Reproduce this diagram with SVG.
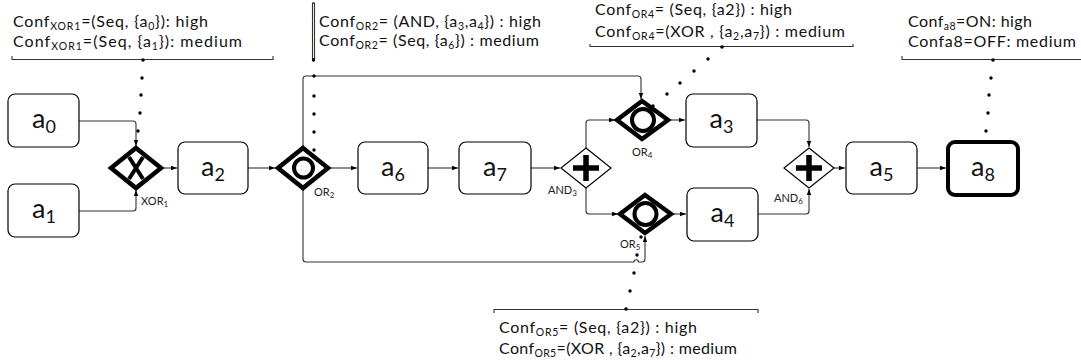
<svg xmlns="http://www.w3.org/2000/svg" width="1081" height="362" viewBox="0 0 1081 362">
<style>
.box{fill:#fff;stroke:#000;stroke-width:1.2}
.bold{fill:#fff;stroke:#000;stroke-width:4}
.gw{fill:#fff;stroke:#000;stroke-width:4.5;stroke-linejoin:miter}
.gwt{fill:#fff;stroke:#000;stroke-width:1.2}
.mk{fill:none;stroke:#000;stroke-width:4}
.plus{stroke:#000;stroke-width:5.5}
.con{fill:none;stroke:#333;stroke-width:1.1;marker-end:url(#arr)}
.br{fill:none;stroke:#333;stroke-width:1.1}
.dot{fill:#000}
.lbl{font-family:Lato,"Open Sans",sans-serif;font-size:27px;fill:#111;text-anchor:middle}
.lsub{font-size:18px;baseline-shift:-5px}
.ann{font-family:Lato,"Open Sans",sans-serif;font-size:16px;fill:#111}
.asub{font-size:10.5px;baseline-shift:-3px}
.gl{font-family:Lato,"Open Sans",sans-serif;font-size:11px;fill:#222}
.gsub{font-size:8px;baseline-shift:-2px}
</style>
<defs>
<marker id="arr" viewBox="0 0 6 6" refX="6" refY="3" markerWidth="6" markerHeight="6" markerUnits="userSpaceOnUse" orient="auto">
<path d="M0,0.8 L6,3 L0,5.2 z" fill="#000"/>
</marker>
</defs>

<g id="connectors">
<path class="con" d="M79,121 H133 Q136,121 136,124 V146"/>
<path class="con" d="M79,211 H133 Q136,211 136,208 V190"/>
<path class="con" d="M162,168 H177"/>
<path class="con" d="M248,168 H275"/>
<path class="con" d="M329,168 H357"/>
<path class="con" d="M428,168 H458"/>
<path class="con" d="M531,168 H560"/>
<path class="con" d="M586,148 V123 Q586,120 589,120 H615"/>
<path class="con" d="M586,188 V211 Q586,214 589,214 H618"/>
<path class="con" d="M303,147 V79 Q303,76 306,76 H638 Q641,76 641,79 V99"/>
<path class="con" d="M303,189 V259 Q303,262 306,262 H634 A2.2,2.2 0 0 1 638.4,262 H642 Q645,262 645,259 V236"/>
<path class="con" d="M669,120 H685"/>
<path class="con" d="M672,214 H686"/>
<path class="con" d="M757,120 H806 Q809,120 809,123 V147"/>
<path class="con" d="M758,214 H806 Q809,214 809,211 V189"/>
<path class="con" d="M834,168 H845"/>
<path class="con" d="M917,168 H946"/>
</g>

<g id="a0"><rect class="box" x="8" y="94" width="71" height="53" rx="7"/><text class="lbl" x="44" y="128">a<tspan class="lsub">0</tspan></text></g>
<g id="a1"><rect class="box" x="8" y="184" width="71" height="53" rx="7"/><text class="lbl" x="44" y="218">a<tspan class="lsub">1</tspan></text></g>
<g id="a2"><rect class="box" x="178" y="142" width="70" height="52" rx="7"/><text class="lbl" x="213" y="176">a<tspan class="lsub">2</tspan></text></g>
<g id="a6"><rect class="box" x="358" y="142" width="70" height="52" rx="7"/><text class="lbl" x="393" y="176">a<tspan class="lsub">6</tspan></text></g>
<g id="a7"><rect class="box" x="459" y="142" width="72" height="52" rx="7"/><text class="lbl" x="495" y="176">a<tspan class="lsub">7</tspan></text></g>
<g id="a3"><rect class="box" x="686" y="94" width="71" height="53" rx="7"/><text class="lbl" x="721.5" y="128">a<tspan class="lsub">3</tspan></text></g>
<g id="a4"><rect class="box" x="687" y="188" width="71" height="53" rx="7"/><text class="lbl" x="722.5" y="222">a<tspan class="lsub">4</tspan></text></g>
<g id="a5"><rect class="box" x="846" y="142" width="71" height="52" rx="7"/><text class="lbl" x="881.5" y="176">a<tspan class="lsub">5</tspan></text></g>
<g id="a8"><rect class="bold" x="948" y="142" width="70" height="53" rx="7"/><text class="lbl" x="983" y="176">a<tspan class="lsub">8</tspan></text></g>

<g id="XOR1">
<path class="gw" d="M136,148 L161,168 L136,188 L111,168 z"/>
<path class="mk" d="M129,157 L143,179 M143,157 L129,179"/>
<text class="gl" x="141" y="205">XOR<tspan class="gsub">1</tspan></text>
</g>
<g id="OR2">
<path class="gw" d="M303,148 L328,168 L303,188 L278,168 z"/>
<circle class="mk" cx="303.5" cy="168" r="9.5"/>
<text class="gl" x="314" y="196">OR<tspan class="gsub">2</tspan></text>
</g>
<g id="AND3">
<path class="gwt" d="M586,148 L611,168 L586,188 L561,168 z"/>
<path class="plus" d="M586,155 V181 M573,168 H599"/>
<text class="gl" x="548" y="194">AND<tspan class="gsub">3</tspan></text>
</g>
<g id="OR4">
<path class="gw" d="M642,101 L668,120 L642,139 L617,120 z"/>
<circle class="mk" cx="643" cy="120" r="11"/>
<text class="gl" x="632" y="156">OR<tspan class="gsub">4</tspan></text>
</g>
<g id="OR5">
<path class="gw" d="M645,195 L671,214 L645,233 L620,214 z"/>
<circle class="mk" cx="645.5" cy="214" r="11"/>
<text class="gl" x="620" y="248">OR<tspan class="gsub">5</tspan></text>
</g>
<g id="AND6">
<path class="gwt" d="M809,148 L834,168 L809,188 L784,168 z"/>
<path class="plus" d="M809,155 V181 M796,168 H822"/>
<text class="gl" x="774" y="202">AND<tspan class="gsub">6</tspan></text>
</g>

<g id="ann-XOR1">
<text class="ann" x="13" y="27" textLength="195">Conf<tspan class="asub">XOR1</tspan>=(Seq, {a<tspan class="asub">0</tspan>}): high</text>
<text class="ann" x="13" y="47" textLength="229">Conf<tspan class="asub">XOR1</tspan>=(Seq, {a<tspan class="asub">1</tspan>}): medium</text>
<path class="br" d="M12,56 V59.5 H273 V56"/>
<circle class="dot" cx="143" cy="60" r="1.8"/>
<circle class="dot" cx="142" cy="78" r="1.7"/><circle class="dot" cx="141" cy="95" r="1.7"/><circle class="dot" cx="140" cy="113" r="1.7"/><circle class="dot" cx="138" cy="131" r="1.7"/>
</g>

<g id="ann-OR2">
<rect class="br" x="312.5" y="3" width="2" height="56"/>
<circle class="dot" cx="313.5" cy="60" r="1.7"/>
<text class="ann" x="319" y="27" textLength="222">Conf<tspan class="asub">OR2</tspan>= (AND, {a<tspan class="asub">3</tspan>,a<tspan class="asub">4</tspan>}) : high</text>
<text class="ann" x="319" y="46" textLength="220">Conf<tspan class="asub">OR2</tspan>= (Seq, {a<tspan class="asub">6</tspan>}) : medium</text>
<circle class="dot" cx="314" cy="76" r="1.7"/><circle class="dot" cx="314" cy="96" r="1.7"/><circle class="dot" cx="314" cy="114" r="1.7"/><circle class="dot" cx="314" cy="132" r="1.7"/><circle class="dot" cx="314" cy="150" r="1.7"/>
</g>

<g id="ann-OR4">
<text class="ann" x="595" y="15" textLength="197">Conf<tspan class="asub">OR4</tspan>= (Seq, {a2}) : high</text>
<text class="ann" x="595" y="37" textLength="250">Conf<tspan class="asub">OR4</tspan>=(XOR , {a<tspan class="asub">2</tspan>,a<tspan class="asub">7</tspan>}) : medium</text>
<path class="br" d="M590,44 V46.5 H853 V44"/>
<circle class="dot" cx="722" cy="47" r="1.8"/>
<circle class="dot" cx="708" cy="59" r="1.7"/><circle class="dot" cx="694" cy="71" r="1.7"/><circle class="dot" cx="680" cy="83" r="1.7"/><circle class="dot" cx="667" cy="94" r="1.7"/><circle class="dot" cx="653" cy="106" r="1.7"/>
</g>

<g id="ann-a8">
<text class="ann" x="908" y="27" textLength="124">Conf<tspan class="asub">a8</tspan>=ON: high</text>
<text class="ann" x="908" y="47" textLength="168">Confa8=OFF: medium</text>
<path class="br" d="M902,56 V59.5 H1081"/>
<circle class="dot" cx="993" cy="60" r="1.8"/>
<circle class="dot" cx="991" cy="78" r="1.7"/><circle class="dot" cx="989" cy="95" r="1.7"/><circle class="dot" cx="988" cy="113" r="1.7"/><circle class="dot" cx="986" cy="131" r="1.7"/>
</g>

<g id="ann-OR5">
<circle class="dot" cx="641" cy="237" r="1.7"/><circle class="dot" cx="637" cy="255" r="1.7"/><circle class="dot" cx="634" cy="273" r="1.7"/><circle class="dot" cx="630" cy="291" r="1.7"/>
<path class="br" d="M494,313 V309.5 H758 V313"/>
<circle class="dot" cx="626" cy="309" r="1.8"/>
<text class="ann" x="499" y="333" textLength="198">Conf<tspan class="asub">OR5</tspan>= (Seq, {a2}) : high</text>
<text class="ann" x="499" y="354" textLength="238">Conf<tspan class="asub">OR5</tspan>=(XOR , {a<tspan class="asub">2</tspan>,a<tspan class="asub">7</tspan>}) : medium</text>
</g>
</svg>
